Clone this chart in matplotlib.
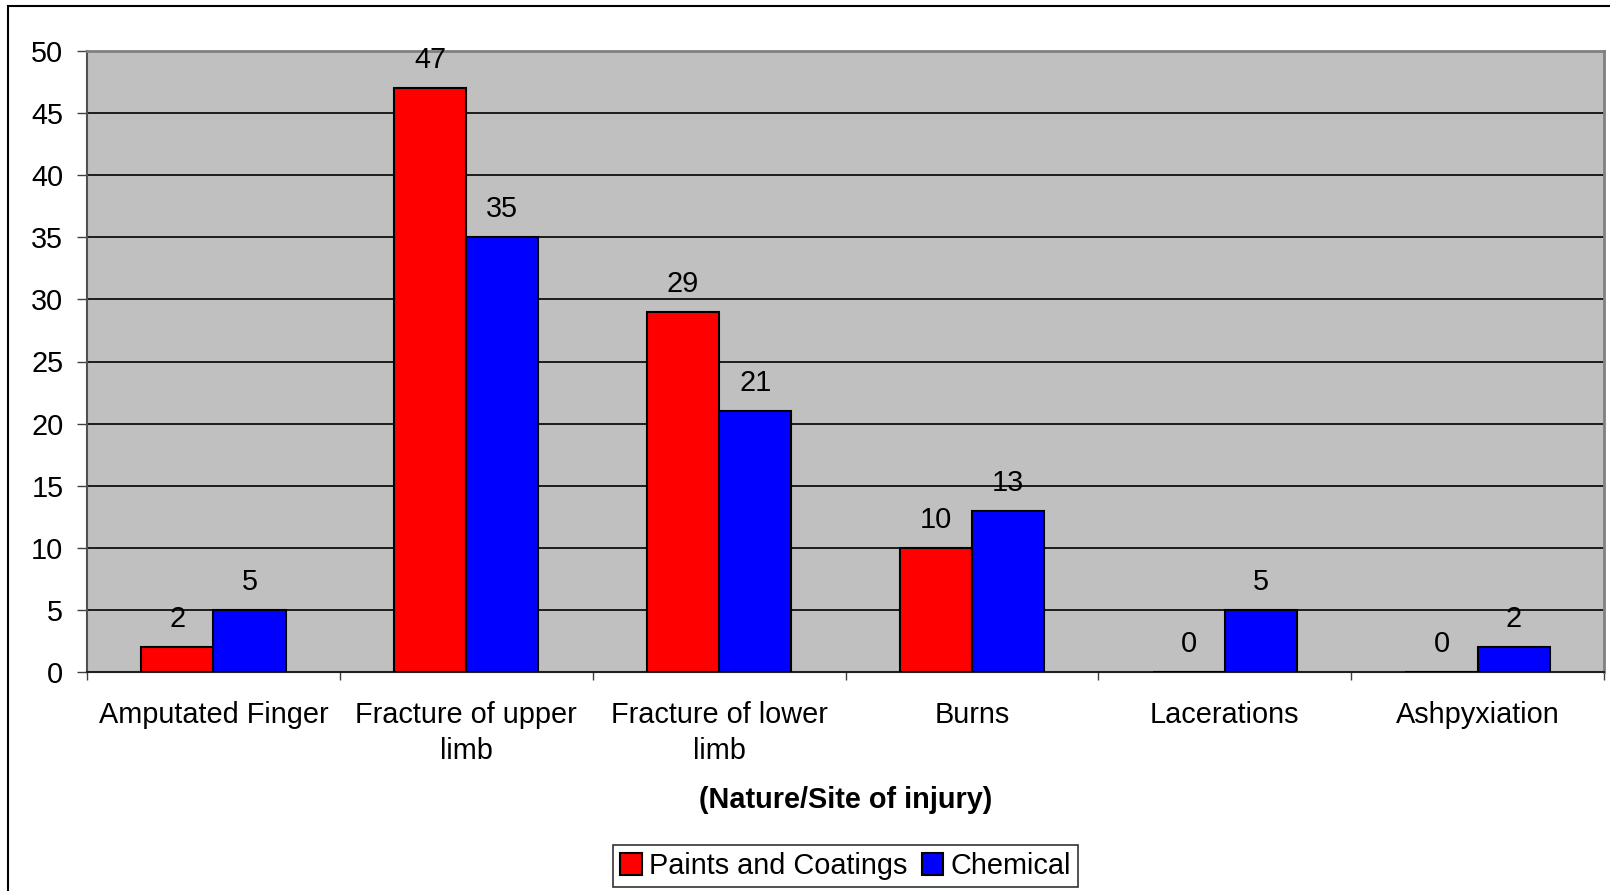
import matplotlib
matplotlib.use("Agg")
import matplotlib.pyplot as plt
from matplotlib.patches import Rectangle
import numpy as np

categories = ["Amputated Finger", "Fracture of upper\nlimb", "Fracture of lower\nlimb",
              "Burns", "Lacerations", "Ashpyxiation"]
paints = [2, 47, 29, 10, 0, 0]
chemical = [5, 35, 21, 13, 5, 2]
series_names = ["Paints and Coatings", "Chemical"]
yticks = [0, 5, 10, 15, 20, 25, 30, 35, 40, 45, 50]

plt.rcParams['font.family'] = ['Liberation Sans', 'DejaVu Sans']
FS = 20.8

W, H = 1610, 891
fig = plt.figure(figsize=(W / 100, H / 100), dpi=100)

# outer chart frame
fig.patches.append(Rectangle((8 / W, -0.05), 1.1, 1 - 6 / H + 0.05, transform=fig.transFigure,
                             fill=False, edgecolor='black', linewidth=1.5, zorder=0))

ax = fig.add_axes([87 / W, 219 / H, (1604 - 87) / W, (840 - 219) / H])
ax.set_facecolor('#C0C0C0')

x = np.arange(len(categories))
w = 1 / 3.5
b1 = ax.bar(x - w / 2, paints, w, color='#FF0000', edgecolor='black', linewidth=1.5, zorder=3,
            label=series_names[0])
b2 = ax.bar(x + w / 2, chemical, w, color='#0000FF', edgecolor='black', linewidth=1.5, zorder=3,
            label=series_names[1])

for bars, vals in ((b1, paints), (b2, chemical)):
    for rect, v in zip(bars, vals):
        ax.annotate(str(v), (rect.get_x() + rect.get_width() / 2, v), xytext=(0, 10),
                    textcoords='offset points', ha='center', va='bottom', fontsize=FS, zorder=4)

ax.set_xlim(-0.5, len(categories) - 0.5)
ax.set_ylim(0, 50)
ax.set_yticks(yticks)
ax.yaxis.grid(True, color='black', linewidth=1.2, zorder=1)
ax.set_axisbelow(True)
ax.tick_params(axis='y', labelsize=FS, length=7, width=1, pad=10, color='#404040')

ax.set_xticks(x)
ax.set_xticklabels(categories, linespacing=1.36)
ax.set_xticks(np.arange(len(categories) + 1) - 0.5, minor=True)
ax.tick_params(axis='x', which='major', length=0, labelsize=FS, pad=21)
ax.tick_params(axis='x', which='minor', length=6, width=1, color='#404040')

for s in ('top', 'right'):
    ax.spines[s].set_color('#808080')
    ax.spines[s].set_linewidth(2)
ax.spines['left'].set_color('#505050')
ax.spines['left'].set_linewidth(1.5)
ax.spines['bottom'].set_color('#202020')
ax.spines['bottom'].set_linewidth(1.5)

fig.text(845.5 / W, 1 - 800 / H, "(Nature/Site of injury)", ha='center', va='center',
         fontsize=FS, fontweight='bold')

leg = fig.legend(handles=[b1, b2], labels=series_names, loc='center',
                 bbox_to_anchor=(845.5 / W, 1 - 866 / H), ncol=2, fontsize=FS,
                 frameon=True, fancybox=False, shadow=False, edgecolor='black',
                 handlelength=0.75, handleheight=0.75, handletextpad=0.25,
                 columnspacing=0.5, borderpad=0.25, borderaxespad=0)
leg.get_frame().set_linewidth(1.2)

fig.savefig("out.png", dpi=100)
